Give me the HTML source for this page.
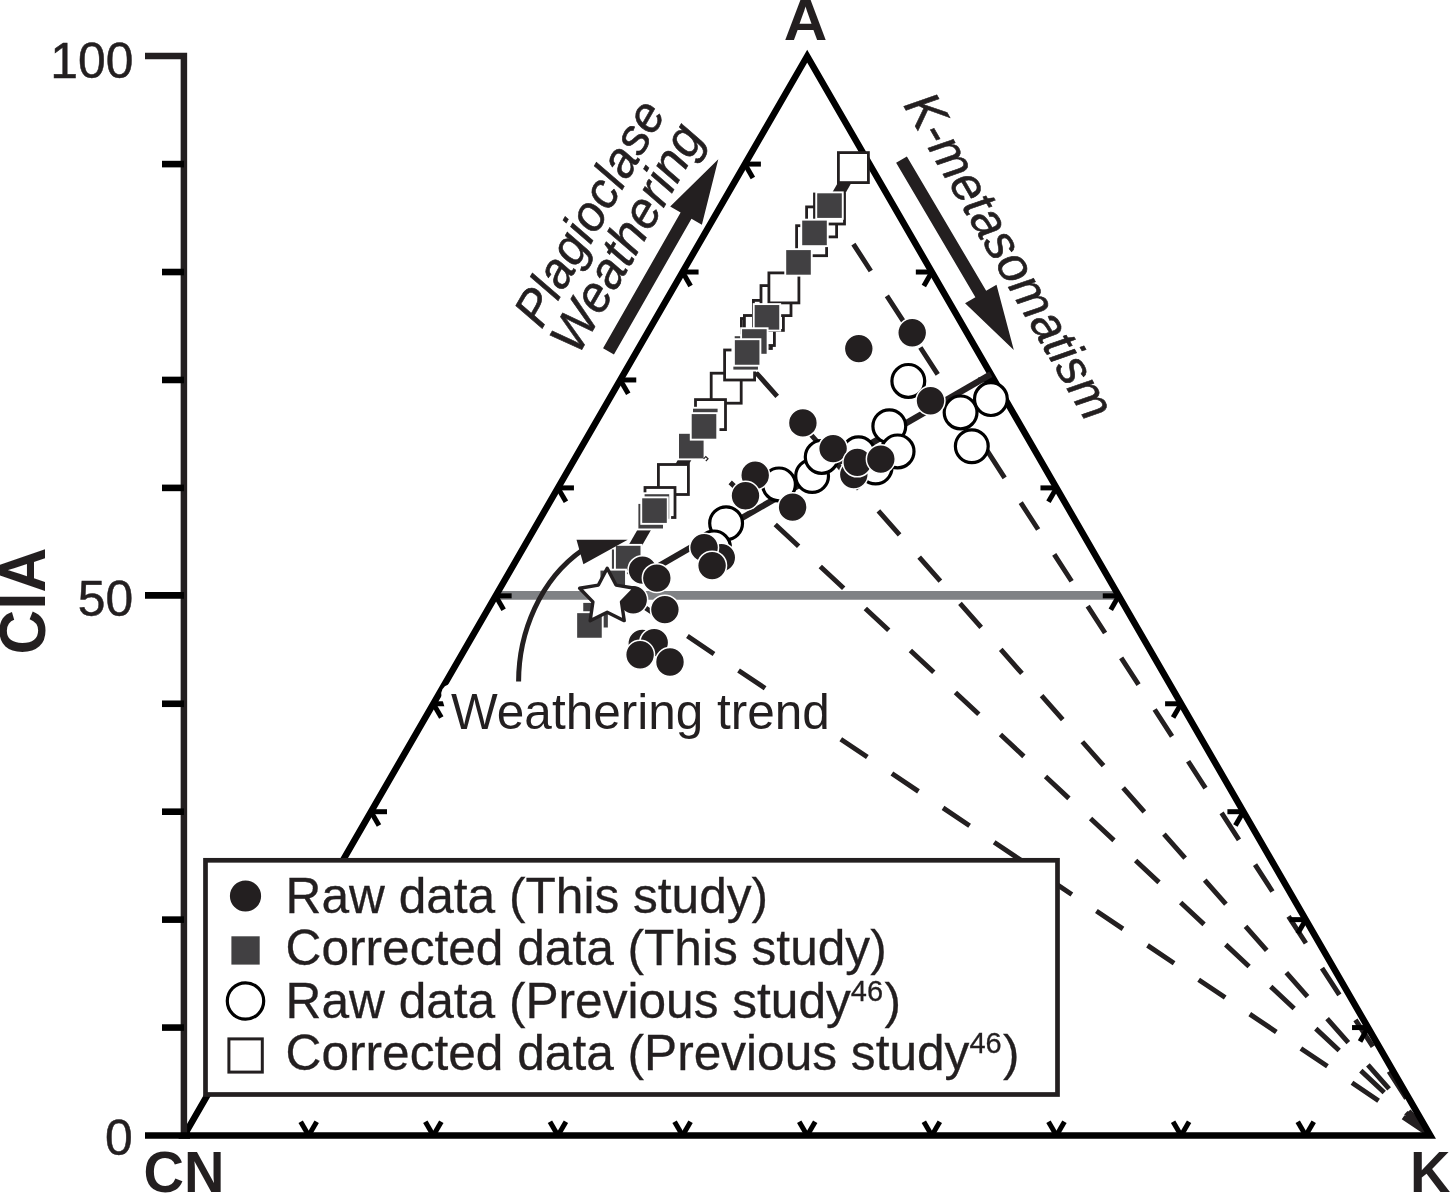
<!DOCTYPE html>
<html><head><meta charset="utf-8"><title>A-CN-K ternary diagram</title>
<style>html,body{margin:0;padding:0;background:#fff}svg{display:block}</style></head>
<body>
<svg width="1450" height="1193" viewBox="0 0 1450 1193" font-family="'Liberation Sans', sans-serif">
<rect width="1450" height="1193" fill="#fff"/>
<g stroke="#231f20" stroke-width="4.9" fill="none" stroke-dasharray="32 29.6">
<line x1="636.3" y1="601.7" x2="1430.35" y2="1135.5"/>
<line x1="730.2" y1="482.4" x2="1430.35" y2="1135.5"/>
<line x1="756" y1="372.5" x2="1430.35" y2="1135.5"/>
<line x1="853.4" y1="244.1" x2="1430.35" y2="1135.5"/>
</g>
<polygon points="1402.8,1118.6 1411.6,1110.6 1425,1134" fill="#231f20"/>
<line x1="497" y1="595.4" x2="1117" y2="595.4" stroke="#808285" stroke-width="8.7"/>
<polygon points="184.05,1135.5 807.2,56.15 1430.35,1135.5" fill="none" stroke="#000" stroke-width="6.5" stroke-linejoin="miter"/>
<g stroke="#000" stroke-width="5" fill="none">
<path d="M246.37,1027.57L262.37,1027.57"/>
<path d="M246.37,1027.57L254.37,1041.42"/>
<path d="M1368.03,1027.57L1352.03,1027.57"/>
<path d="M1368.03,1027.57L1360.03,1041.42"/>
<path d="M308.68,1135.5L300.68,1121.64"/>
<path d="M308.68,1135.5L316.68,1121.64"/>
<path d="M308.68,919.63L324.68,919.63"/>
<path d="M308.68,919.63L316.68,933.49"/>
<path d="M1305.72,919.63L1289.72,919.63"/>
<path d="M1305.72,919.63L1297.72,933.49"/>
<path d="M433.31,1135.5L425.31,1121.64"/>
<path d="M433.31,1135.5L441.31,1121.64"/>
<path d="M371,811.7L387,811.7"/>
<path d="M371,811.7L379,825.55"/>
<path d="M1243.4,811.7L1227.4,811.7"/>
<path d="M1243.4,811.7L1235.4,825.55"/>
<path d="M557.94,1135.5L549.94,1121.64"/>
<path d="M557.94,1135.5L565.94,1121.64"/>
<path d="M433.31,703.76L449.31,703.76"/>
<path d="M433.31,703.76L441.31,717.62"/>
<path d="M1181.09,703.76L1165.09,703.76"/>
<path d="M1181.09,703.76L1173.09,717.62"/>
<path d="M682.57,1135.5L674.57,1121.64"/>
<path d="M682.57,1135.5L690.57,1121.64"/>
<path d="M495.63,595.83L511.63,595.83"/>
<path d="M495.63,595.83L503.63,609.68"/>
<path d="M1118.78,595.83L1102.78,595.83"/>
<path d="M1118.78,595.83L1110.78,609.68"/>
<path d="M807.2,1135.5L799.2,1121.64"/>
<path d="M807.2,1135.5L815.2,1121.64"/>
<path d="M557.94,487.89L573.94,487.89"/>
<path d="M557.94,487.89L565.94,501.75"/>
<path d="M1056.46,487.89L1040.46,487.89"/>
<path d="M1056.46,487.89L1048.46,501.75"/>
<path d="M931.83,1135.5L923.83,1121.64"/>
<path d="M931.83,1135.5L939.83,1121.64"/>
<path d="M620.26,379.96L636.26,379.96"/>
<path d="M620.26,379.96L628.26,393.81"/>
<path d="M994.14,379.96L978.14,379.96"/>
<path d="M994.14,379.96L986.14,393.81"/>
<path d="M1056.46,1135.5L1048.46,1121.64"/>
<path d="M1056.46,1135.5L1064.46,1121.64"/>
<path d="M682.57,272.02L698.57,272.02"/>
<path d="M682.57,272.02L690.57,285.88"/>
<path d="M931.83,272.02L915.83,272.02"/>
<path d="M931.83,272.02L923.83,285.88"/>
<path d="M1181.09,1135.5L1173.09,1121.64"/>
<path d="M1181.09,1135.5L1189.09,1121.64"/>
<path d="M744.89,164.09L760.89,164.09"/>
<path d="M744.89,164.09L752.89,177.94"/>
<path d="M869.51,164.09L853.51,164.09"/>
<path d="M869.51,164.09L861.51,177.94"/>
<path d="M1305.72,1135.5L1297.72,1121.64"/>
<path d="M1305.72,1135.5L1313.72,1121.64"/>
</g>
<polyline points="145,56.1 183.9,56.1 183.9,1135.5" fill="none" stroke="#231f20" stroke-width="6.5" stroke-linejoin="miter"/>
<line x1="145" y1="1135.5" x2="190" y2="1135.5" stroke="#000" stroke-width="6.5"/>
<g stroke="#000" stroke-width="6.6">
<line x1="162" y1="1027.57" x2="184" y2="1027.57"/>
<line x1="162" y1="919.63" x2="184" y2="919.63"/>
<line x1="162" y1="811.7" x2="184" y2="811.7"/>
<line x1="162" y1="703.76" x2="184" y2="703.76"/>
<line x1="145" y1="595.4" x2="184" y2="595.4"/>
<line x1="162" y1="487.89" x2="184" y2="487.89"/>
<line x1="162" y1="379.96" x2="184" y2="379.96"/>
<line x1="162" y1="272.02" x2="184" y2="272.02"/>
<line x1="162" y1="164.09" x2="184" y2="164.09"/>
</g>
<line x1="601.44" y1="604" x2="853.4" y2="167.6" stroke="#231f20" stroke-width="11.8"/>
<line x1="646" y1="573.33" x2="990.85" y2="374.24" stroke="#231f20" stroke-width="6.2"/>
<g fill="#fff" stroke="#231f20" stroke-width="2.8">
<rect x="658.4" y="464.5" width="30" height="30"/>
<rect x="645" y="487.5" width="30" height="30"/>
<rect x="711.2" y="373.2" width="30" height="30"/>
<rect x="695.5" y="399.6" width="30" height="30"/>
<rect x="724.6" y="350" width="30" height="30"/>
<rect x="741.4" y="318.5" width="30" height="30"/>
<rect x="744.4" y="315.5" width="30" height="30"/>
<rect x="753.4" y="300.4" width="30" height="30"/>
<rect x="761" y="285.6" width="30" height="30"/>
<rect x="768.9" y="272.9" width="30" height="30"/>
<rect x="796.6" y="225.7" width="30" height="30"/>
<rect x="806.6" y="206.9" width="30" height="30"/>
<rect x="814.5" y="194" width="30" height="30"/>
<rect x="838.4" y="152.6" width="30" height="30"/>
</g>
<g fill="#414042" stroke="#fff" stroke-width="1.9">
<rect x="816.25" y="192.35" width="26.5" height="26.5"/>
<rect x="801.25" y="219.65" width="26.5" height="26.5"/>
<rect x="785.25" y="249.15" width="26.5" height="26.5"/>
<rect x="753.7" y="304.1" width="26.5" height="26.5"/>
<rect x="733.75" y="335.25" width="26.5" height="26.5"/>
<rect x="732.4" y="344.05" width="26.5" height="26.5"/>
<rect x="741.1" y="328.25" width="26.5" height="26.5"/>
<rect x="733.9" y="339.2" width="26.5" height="26.5"/>
<rect x="692.05" y="407.75" width="26.5" height="26.5"/>
<rect x="678.05" y="432.85" width="26.5" height="26.5"/>
<rect x="690.75" y="413.15" width="26.5" height="26.5"/>
<rect x="643.65" y="493.25" width="26.5" height="26.5"/>
<rect x="637.45" y="502.95" width="26.5" height="26.5"/>
<rect x="641.25" y="497.35" width="26.5" height="26.5"/>
<rect x="610.95" y="548.55" width="26.5" height="26.5"/>
<rect x="614.95" y="544.85" width="26.5" height="26.5"/>
<rect x="599.5" y="569.65" width="26.5" height="26.5"/>
<rect x="582.3" y="601.95" width="26.5" height="26.5"/>
<rect x="576.2" y="612.2" width="26.5" height="26.5"/>
</g>
<path d="M703.6,458.8 l2.2,-2.2 l2.2,2.2 l-2.2,2.2" fill="none" stroke="#231f20" stroke-width="1.2"/>
<g fill="#fff" stroke="#000" stroke-width="3.2">
<circle cx="971.8" cy="446.2" r="16.4"/>
<circle cx="960.6" cy="412.4" r="16.4"/>
<circle cx="990.9" cy="399.1" r="16.4"/>
<circle cx="908.3" cy="380.9" r="16.4"/>
<circle cx="875.6" cy="467.5" r="16.4"/>
<circle cx="858.5" cy="453.2" r="16.4"/>
<circle cx="889.3" cy="426.2" r="16.4"/>
<circle cx="897.6" cy="451.4" r="16.4"/>
<circle cx="779" cy="484.4" r="16.4"/>
<circle cx="812.1" cy="476" r="16.4"/>
<circle cx="821.7" cy="456.9" r="16.4"/>
<circle cx="726.1" cy="523.3" r="16.4"/>
<circle cx="714" cy="547.4" r="16.4"/>
</g>
<g fill="#231f20" stroke="#fff" stroke-width="1.5">
<circle cx="912.2" cy="332.8" r="14.45"/>
<circle cx="858.8" cy="348.6" r="14.45"/>
<circle cx="930.5" cy="400.7" r="14.45"/>
<circle cx="802.9" cy="422.9" r="14.45"/>
<circle cx="853.8" cy="474.6" r="14.45"/>
<circle cx="833.1" cy="448.6" r="14.45"/>
<circle cx="857.3" cy="462.4" r="14.45"/>
<circle cx="880.8" cy="459.1" r="14.45"/>
<circle cx="792.6" cy="507.1" r="14.45"/>
<circle cx="755.2" cy="475.3" r="14.45"/>
<circle cx="745.5" cy="495.8" r="14.45"/>
<circle cx="721.3" cy="557.6" r="14.45"/>
<circle cx="704.1" cy="547.6" r="14.45"/>
<circle cx="712.1" cy="565.6" r="14.45"/>
<circle cx="642.5" cy="570.1" r="14.45"/>
<circle cx="656.8" cy="578.1" r="14.45"/>
<circle cx="633.2" cy="599.8" r="14.45"/>
<circle cx="664.9" cy="609.6" r="14.45"/>
<circle cx="642.3" cy="643.4" r="14.45"/>
<circle cx="654.2" cy="642.6" r="14.45"/>
<circle cx="640.1" cy="654.7" r="14.45"/>
<circle cx="670" cy="662" r="14.45"/>
</g>
<polygon points="607.2,568.2 616.02,585.06 634.78,588.24 621.47,601.84 624.25,620.66 607.2,612.2 590.15,620.66 592.93,601.84 579.62,588.24 598.38,585.06" fill="#fff" stroke="#231f20" stroke-width="3.4" stroke-linejoin="round"/>
<path d="M518.6,681.6 C518.6,632.5 540,579.5 582.5,550" fill="none" stroke="#231f20" stroke-width="5"/>
<polygon points="576.5,539.7 627.7,539.7 583.4,564.3" fill="#231f20"/>
<polygon points="613.93,354.4 691.47,218.73 701.89,224.69 718.3,159.2 670.2,206.58 680.62,212.53 603.07,348.2" fill="#231f20"/>
<polygon points="896.12,162.78 975.39,297.19 965.06,303.28 1013.8,350 996.5,284.74 986.16,290.84 906.88,156.42" fill="#231f20"/>
<text transform="translate(541.4,329.8) rotate(-60) scale(1,1.02)" font-size="49" fill="#231f20" font-style="italic" stroke="#231f20" stroke-width="0.6">Plagioclase</text>
<text transform="translate(577.9,356.3) rotate(-60) scale(1,1.02)" font-size="49.8" fill="#231f20" font-style="italic" stroke="#231f20" stroke-width="0.6">Weathering</text>
<text transform="translate(903,105) rotate(60) scale(1,1.02)" font-size="49" fill="#231f20" font-style="italic" stroke="#231f20" stroke-width="0.6">K-metasomatism</text>
<text transform="translate(451,729.2) scale(1,1.0)" font-size="49.5" fill="#231f20" stroke="#fff" stroke-width="20" stroke-linejoin="round" paint-order="stroke">Weathering trend</text>
<rect x="205.5" y="860.3" width="852" height="234.2" fill="#fff" stroke="#231f20" stroke-width="4.7"/>
<circle cx="245.5" cy="896" r="15.6" fill="#231f20"/>
<rect x="231.4" y="936.3" width="28.3" height="28.3" fill="#414042"/>
<circle cx="245.5" cy="1001" r="18.2" fill="#fff" stroke="#000" stroke-width="3.2"/>
<rect x="228.9" y="1038.9" width="33.4" height="33.2" fill="#fff" stroke="#231f20" stroke-width="3"/>
<text transform="translate(285.6,913.1) scale(1,1.0)" font-size="49.62" fill="#231f20" stroke="#231f20" stroke-width="0.3">Raw data (This study)</text>
<text transform="translate(285.6,965.4) scale(1,1.0)" font-size="49.62" fill="#231f20" stroke="#231f20" stroke-width="0.3">Corrected data (This study)</text>
<text transform="translate(285.6,1017.9) scale(1,1.0)" font-size="49.62" fill="#231f20" stroke="#231f20" stroke-width="0.3">Raw data (Previous study<tspan font-size="29" dy="-17">46</tspan><tspan dy="17" dx="1.4">)</tspan></text>
<text transform="translate(285.6,1070.4) scale(1,1.0)" font-size="49.62" fill="#231f20" stroke="#231f20" stroke-width="0.3">Corrected data (Previous study<tspan font-size="29" dy="-17">46</tspan><tspan dy="17" dx="1.4">)</tspan></text>
<text transform="translate(133.4,77.9) scale(1,1.0)" font-size="49.8" fill="#231f20" text-anchor="end" stroke="#231f20" stroke-width="0.5">100</text>
<text transform="translate(133.1,616.1) scale(1,1.0)" font-size="49.8" fill="#231f20" text-anchor="end" stroke="#231f20" stroke-width="0.5">50</text>
<text transform="translate(132.7,1155.2) scale(1,1.0)" font-size="49.8" fill="#231f20" text-anchor="end" stroke="#231f20" stroke-width="0.5">0</text>
<text transform="translate(805.5,40) scale(1.077,1.04)" font-size="56" fill="#231f20" text-anchor="middle" font-weight="bold">A</text>
<text transform="translate(143.6,1192) scale(1,1.04)" font-size="56" fill="#231f20" font-weight="bold">CN</text>
<text transform="translate(1410,1192) scale(1,1.04)" font-size="56" fill="#231f20" font-weight="bold">K</text>
<text transform="translate(45.2,654.5) rotate(-90) scale(1,1.04)" font-size="62" fill="#231f20" font-weight="bold">CIA</text>
</svg>
</body></html>
